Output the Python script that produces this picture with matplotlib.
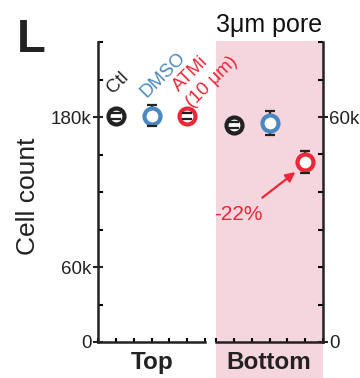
import matplotlib
matplotlib.use('Agg')
import matplotlib.pyplot as plt
from matplotlib.patches import Rectangle

plt.rcParams['font.family'] = ['Liberation Sans', 'DejaVu Sans']

# Condiciones y colores
conditions = ['Ctl', 'DMSO', 'ATMi']
colors = ['#222222', '#4a88c2', '#ec2737']
xpos = [1, 3, 5]

# Conteos en el lado superior (eje izquierdo) e inferior (eje derecho)
top_counts = [181000, 181000, 181000]
top_err = [2400, 8500, 2400]
bottom_counts = [57900, 58400, 48000]
bottom_err = [800, 3300, 2900]

left_ticks = [0, 60000, 180000]
left_labels = ['0', '60k', '180k']
right_ticks = [0, 60000]
right_labels = ['0', '60k']

W, H = 360, 378
fig = plt.figure(figsize=(W / 100, H / 100), dpi=100)

# zona rosa del poro de 3 um (lado inferior)
fig.add_artist(Rectangle((216 / W, 0), 107 / W, (H - 41) / H,
                         transform=fig.transFigure, facecolor='#f5d6de',
                         edgecolor='none', zorder=-5))

ax1 = fig.add_axes([98 / W, (H - 342) / H, 107 / W, 300 / H])
ax2 = fig.add_axes([216 / W, (H - 342) / H, 107 / W, 300 / H])
ax2.patch.set_visible(False)
ax1.patch.set_visible(False)


def draw_points(ax, vals, errs):
    for x, v, e, c in zip(xpos, vals, errs, colors):
        line, caps, bars = ax.errorbar(x, v, yerr=e, fmt='none', ecolor='#222222',
                                       elinewidth=1.6, capsize=3.5, capthick=1.6)
        for b in bars:
            b.set_zorder(2)
        ax.plot(x, v, 'o', ms=11.5, mew=3, mfc='white', mec=c, zorder=3,
                clip_on=False)
        for cp in caps:
            cp.set_zorder(4)


draw_points(ax1, top_counts, top_err)
draw_points(ax2, bottom_counts, bottom_err)

for ax in (ax1, ax2):
    ax.set_xlim(0, 6)
    ax.set_xticks(range(7))
    ax.set_xticklabels([])
    ax.tick_params(axis='x', direction='in', length=3, width=1.5)
    ax.spines['top'].set_visible(False)
    for s in ax.spines.values():
        s.set_linewidth(1.8)
        s.set_color('#222222')

ax1.spines['right'].set_visible(False)
ax1.set_ylim(0, 240000)
ax1.set_yticks(left_ticks)
ax1.set_yticklabels(left_labels)
ax1.set_yticks(range(0, 240001, 30000), minor=True)
ax1.tick_params(axis='y', which='major', direction='inout', length=7, width=1.5,
                labelsize=13.5, pad=1, colors='#222222')
ax1.tick_params(axis='y', which='minor', direction='in', length=3.5, width=1.5)

ax2.spines['left'].set_visible(False)
ax2.yaxis.tick_right()
ax2.set_ylim(0, 80000)
ax2.set_yticks(right_ticks)
ax2.set_yticklabels(right_labels)
ax2.set_yticks(range(0, 80001, 10000), minor=True)
ax2.tick_params(axis='y', which='major', direction='inout', length=7, width=1.5,
                labelsize=13.5, pad=1, colors='#222222')
ax2.tick_params(axis='y', which='minor', direction='in', length=3.5, width=1.5)

# etiquetas rotadas de las condiciones
lab_kw = dict(rotation=45, rotation_mode='anchor', ha='left', va='baseline',
              fontsize=13.5, clip_on=False)
ax1.text(0.85, 198000, 'Ctl', color=colors[0], **lab_kw)
ax1.text(2.7, 195000, 'DMSO', color=colors[1], **lab_kw)
ax1.text(4.55, 200000, 'ATMi', color=colors[2], **lab_kw)
ax1.text(5.3, 187000, '(10 \u03bcm)', color=colors[2], **lab_kw)

# flecha y porcentaje
ax2.annotate('', xy=(4.45, 45300), xytext=(2.6, 38500),
             arrowprops=dict(arrowstyle='-|>', color=colors[2], lw=1.6,
                             mutation_scale=14, shrinkA=0, shrinkB=0))
ax2.text(1.25, 34000, '-22%', color=colors[2], fontsize=15,
         ha='center', va='center')

fig.text(17 / W, 1 - 52 / H, 'L', fontsize=34, fontweight='bold',
         ha='left', va='baseline', color='#222222')
fig.text(269 / W, 1 - 32 / H, '3\u03bcm pore', fontsize=18, ha='center',
         va='baseline', color='#111111')
fig.text(28 / W, 1 - 196 / H, 'Cell count', fontsize=19, rotation=90,
         ha='center', va='center', color='#222222')
fig.text(152 / W, 1 - 369 / H, 'Top', fontsize=17.5, fontweight='bold',
         ha='center', va='baseline', color='#222222')
fig.text(269 / W, 1 - 369 / H, 'Bottom', fontsize=17.5, fontweight='bold',
         ha='center', va='baseline', color='#222222')

fig.savefig('out.png', dpi=100)
